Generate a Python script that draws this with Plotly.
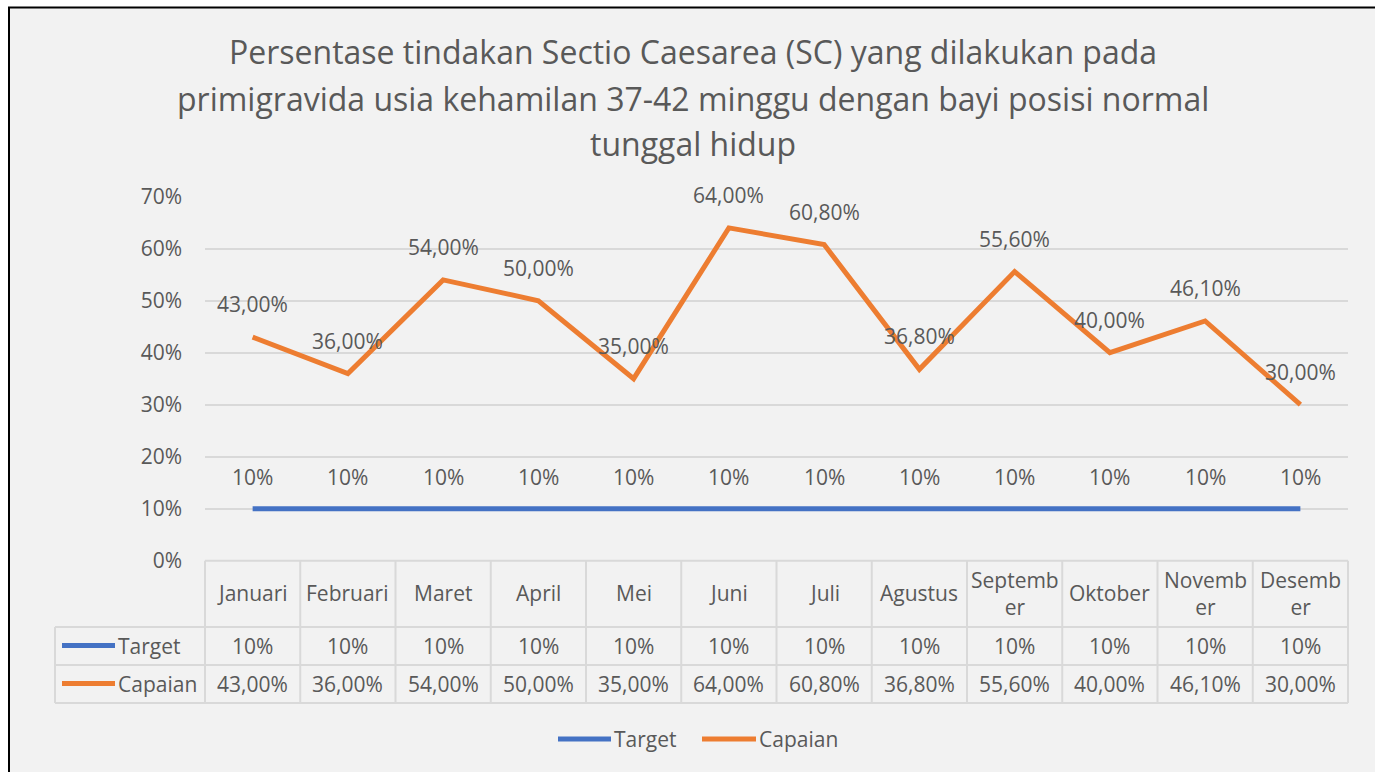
import plotly.graph_objects as go

# ---------------- data ----------------
months = ["Januari", "Februari", "Maret", "April", "Mei", "Juni", "Juli",
          "Agustus", "September", "Oktober", "November", "Desember"]
header_labels = ["Januari", "Februari", "Maret", "April", "Mei", "Juni", "Juli",
                 "Agustus", "Septemb<br>er", "Oktober", "Novemb<br>er", "Desemb<br>er"]
target = [0.10] * 12
capaian = [0.43, 0.36, 0.54, 0.50, 0.35, 0.64, 0.608, 0.368, 0.556, 0.40, 0.461, 0.30]
y_ticks = [0, 0.1, 0.2, 0.3, 0.4, 0.5, 0.6, 0.7]
series_names = ["Target", "Capaian"]

# ---------------- style ----------------
W, H = 1375, 772
BLUE = "#4472c4"
ORANGE = "#ed7d31"
TXT = "#595959"
GRID = "#d9d9d9"
FONT = "Open Sans"
FS = 21

def px(x):
    return x / W

def py(y):
    return (H - y) / H

PL, PR = 205, 1348        # plot area x pixels
PT, PB = 196.7, 560.7     # y pixels for 70% and 0%
colw = (PR - PL) / 12

fig = go.Figure()
fig.add_trace(go.Scatter(x=list(range(12)), y=target, mode="lines", name=series_names[0],
                         line=dict(color=BLUE, width=5), showlegend=False, hoverinfo="y"))
fig.add_trace(go.Scatter(x=list(range(12)), y=capaian, mode="lines", name=series_names[1],
                         line=dict(color=ORANGE, width=5), showlegend=False, hoverinfo="y"))

ann = []
shapes = []

def text(x, y, t, xref="paper", yref="paper", xanchor="center", size=FS, yshift=0):
    ann.append(dict(x=x, y=y, xref=xref, yref=yref, text=t, showarrow=False,
                    xanchor=xanchor, yanchor="middle", yshift=yshift,
                    font=dict(family=FONT, size=size, color=TXT)))

# chart frame
shapes.append(dict(type="rect", xref="paper", yref="paper", x0=px(9), x1=px(W + 20),
                   y0=py(H + 20), y1=py(7.5), line=dict(color="black", width=2),
                   fillcolor="#f2f2f2", layer="below"))

# data labels
for i, v in enumerate(capaian):
    text(i, v, f"{v*100:.2f}%".replace(".", ","), xref="x", yref="y", yshift=33)
for i, v in enumerate(target):
    text(i, v, f"{v*100:.0f}%", xref="x", yref="y", yshift=32)

# data table
LC = dict(color=GRID, width=2)
row_y = [PB, 627, 665, 703]
shapes.append(dict(type="line", xref="paper", yref="paper", x0=px(PL), x1=px(PR),
                   y0=py(row_y[0]), y1=py(row_y[0]), line=LC))
for yy in row_y[1:]:
    shapes.append(dict(type="line", xref="paper", yref="paper", x0=px(55), x1=px(PR),
                       y0=py(yy), y1=py(yy), line=LC))
for k in range(13):
    xx = PL + k * colw
    shapes.append(dict(type="line", xref="paper", yref="paper", x0=px(xx), x1=px(xx),
                       y0=py(row_y[0]), y1=py(row_y[3]), line=LC))
shapes.append(dict(type="line", xref="paper", yref="paper", x0=px(55), x1=px(55),
                   y0=py(row_y[1]), y1=py(row_y[3]), line=LC))

for i in range(12):
    text(i, py(593), header_labels[i], xref="x")
    text(i, py(646), f"{target[i]*100:.0f}%", xref="x")
    text(i, py(684), f"{capaian[i]*100:.2f}%".replace(".", ","), xref="x")

# legend keys in table
for name, col, yy in [(series_names[0], BLUE, 645.5), (series_names[1], ORANGE, 683.5)]:
    shapes.append(dict(type="line", xref="paper", yref="paper", x0=px(62), x1=px(115),
                       y0=py(yy), y1=py(yy), line=dict(color=col, width=5)))
    text(px(116), py(yy), name, xanchor="left")

# bottom legend
for name, col, x0, x1 in [(series_names[0], BLUE, 558, 611), (series_names[1], ORANGE, 702, 756)]:
    shapes.append(dict(type="line", xref="paper", yref="paper", x0=px(x0), x1=px(x1),
                       y0=py(739), y1=py(739), line=dict(color=col, width=5)))
    text(px(x1 + 1), py(739), name, xanchor="left")

# title
title_lines = ["Persentase tindakan Sectio Caesarea (SC) yang dilakukan pada",
               "primigravida usia kehamilan 37-42 minggu dengan bayi posisi normal",
               "tunggal hidup"]
for t, yy in zip(title_lines, [51, 98, 143]):
    text(px(693), py(yy), t, size=32)

fig.update_layout(
    width=W, height=H,
    margin=dict(l=0, r=0, t=0, b=0, pad=0, autoexpand=False),
    paper_bgcolor="white",
    plot_bgcolor="rgba(0,0,0,0)",
    separators=",.",
    showlegend=False,
    shapes=shapes,
    annotations=ann,
    xaxis=dict(domain=[px(PL), px(PR)], range=[-0.5, 11.5], showticklabels=False,
               showgrid=False, zeroline=False, showline=False, ticks="", automargin=False),
    yaxis=dict(domain=[py(PB), py(PT)], range=[0, 0.7], tickvals=y_ticks, tickformat=".0%",
               showgrid=True, gridcolor=GRID, gridwidth=2, zeroline=False, showline=False,
               ticks="", ticklabelstandoff=22, automargin=False,
               tickfont=dict(family=FONT, size=FS, color=TXT)),
)

fig.write_html("out.html", config={"displayModeBar": False},
               post_script="document.body.style.margin='0';")
